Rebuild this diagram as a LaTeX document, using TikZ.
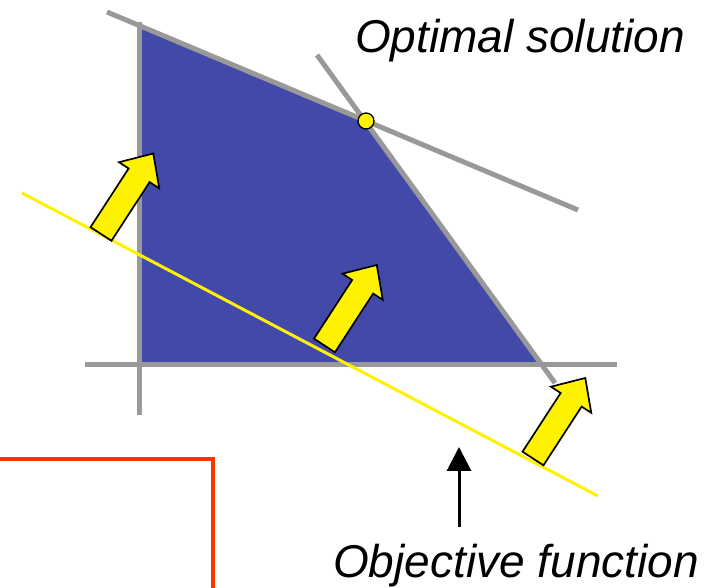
\documentclass[tikz,border=0pt]{standalone}
\usepackage{fontspec}
\setmainfont{Liberation Sans}
\usepackage{xcolor}
\usetikzlibrary{arrows.meta,calc}
\definecolor{feasblue}{RGB}{67,73,168}
\definecolor{constrgray}{RGB}{153,153,153}
\definecolor{boxred}{RGB}{255,51,0}

\begin{document}
\begin{tikzpicture}[
    x=1pt, y=1pt,
    constraint/.style={draw=constrgray, line width=5pt},
    objline/.style={draw=yellow, line width=3pt},
    push/.style={draw=black, fill=yellow, line width=1.7pt, line join=miter},
    note/.style={font=\fontsize{46}{55}\selectfont\itshape, inner sep=0pt},
    dot/.style={circle, draw, fill=yellow, line width=1.3pt, minimum size=16pt, inner sep=0pt},
    arr/.style={-{Triangle[length=24pt, width=24pt]}, line width=3pt},
]
    \useasboundingbox (0,0) rectangle (709,588);
    \clip (0,0) rectangle (709,588);

    % Corners of the region
    \coordinate (topleft) at (139,562.6);
    \coordinate (opt) at (366,467);
    \coordinate (botright) at (542,223);
    \coordinate (origin) at (139,223);

    % Feasible region
    \fill[feasblue] (topleft) -- (opt) -- (botright) -- (origin) -- cycle;

    % Axes
    \coordinate (ytop) at (139,566);
    \coordinate (ybot) at (139,173);
    \coordinate (xleft) at (85,223);
    \coordinate (xright) at (617,223);
    \draw[constraint] (ybot) -- (ytop);
    \draw[constraint] (xleft) -- (xright);

    % Constraints
    \coordinate (c1a) at (107,576);
    \coordinate (c1b) at (578,378);
    \coordinate (c2a) at (317,533);
    \coordinate (c2b) at (555,205);
    \draw[constraint] (c1a) -- (c1b);
    \draw[constraint] (c2a) -- (c2b);

    % Objective line
    \coordinate (obja) at (22,395);
    \coordinate (objb) at (598,92);
    \draw[objline] (obja) -- (objb);

    % Push arrows
    \foreach \tx/\ty in {101/354, 324.5/242.5, 533/129.5}
        \draw[push, shift={(\tx,\ty)}, rotate=57]
            (0,-12.5) -- (70,-12.5) -- (70,-24) -- (96,0) -- (70,24) -- (70,12.5) -- (0,12.5) -- cycle;

    % Optimum
    \node[dot] (optdot) at (opt) {};

    % Labels
    \node[note, anchor=base west] (optlabel) at (355,535) {Optimal solution};
    \node[note, anchor=base west] (objlabel) at (333,10) {Objective function};

    \coordinate (objtail) at (459,61);
    \coordinate (objtip) at (459,141);
    \draw[arr] (objtail) -- (objtip);

    % Red box
    \coordinate (boxleft) at (-10,129);
    \coordinate (boxcorner) at (213,129);
    \coordinate (boxbot) at (213,-10);
    \draw[draw=boxred, line width=4.5pt] (boxleft) -- (boxcorner) -- (boxbot);
\end{tikzpicture}
\end{document}
